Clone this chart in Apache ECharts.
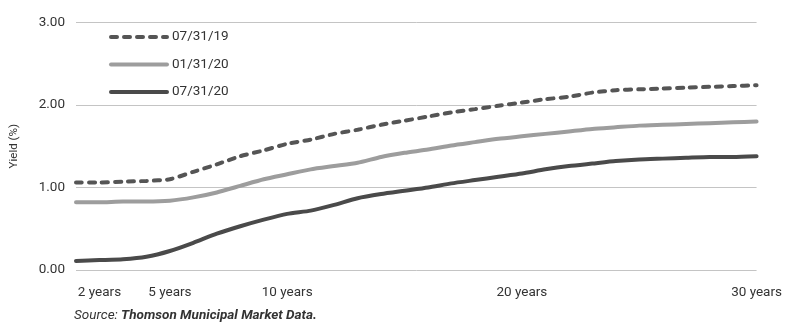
<!DOCTYPE html>
<html>
<head>
<meta charset="utf-8">
<script src="https://cdn.jsdelivr.net/npm/echarts@6/dist/echarts.min.js"></script>
<style>
html,body{margin:0;padding:0;background:#fff;}
#c{width:785px;height:323px;}
</style>
</head>
<body>
<div id="c"></div>
<script>
// Maturity in years (1..30)
const years = [1,2,3,4,5,6,7,8,9,10,11,12,13,14,15,16,17,18,19,20,21,22,23,24,25,26,27,28,29,30];
const labeledYears = [2,5,10,20,30];
const seriesNames = ['07/31/19','01/31/20','07/31/20'];
const yield_073119 = [1.06,1.06,1.07,1.08,1.10,1.19,1.28,1.38,1.45,1.53,1.58,1.65,1.70,1.76,1.81,1.86,1.91,1.95,1.99,2.03,2.07,2.10,2.15,2.18,2.19,2.20,2.21,2.22,2.23,2.24];
const yield_013120 = [0.82,0.82,0.83,0.83,0.84,0.88,0.94,1.02,1.10,1.16,1.22,1.26,1.30,1.37,1.42,1.46,1.51,1.55,1.59,1.62,1.65,1.68,1.71,1.73,1.75,1.76,1.77,1.78,1.79,1.80];
const yield_073120 = [0.11,0.12,0.13,0.16,0.23,0.33,0.44,0.53,0.61,0.68,0.72,0.79,0.87,0.92,0.96,1.00,1.05,1.09,1.13,1.17,1.22,1.26,1.29,1.32,1.34,1.35,1.36,1.37,1.37,1.38];
const yTicks = [0,1,2,3];

const FONT = 'Roboto,"Liberation Sans",sans-serif';
const chart = echarts.init(document.getElementById('c'), null, {renderer:'canvas'});
chart.setOption({
  animation:false,
  backgroundColor:'#fff',
  textStyle:{fontFamily:FONT},
  grid:{left:74,right:24,top:22.5,bottom:53,containLabel:false},
  legend:{
    orient:'vertical', left:104, top:25,
    itemWidth:56, itemHeight:12, itemGap:13.5,
    itemStyle:{opacity:0},
    lineStyle:{width:4, cap:'round'},
    textStyle:{fontFamily:FONT,fontSize:13.5,color:'#333'},
    data:seriesNames
  },
  xAxis:{
    type:'category', boundaryGap:false,
    data:years.map(y=>y+' years'),
    axisLine:{show:false}, axisTick:{show:false},
    axisLabel:{
      interval:(i)=>labeledYears.indexOf(years[i])>=0,
      margin:16, fontFamily:FONT, fontSize:13.5, color:'#333'
    },
    splitLine:{show:false}
  },
  yAxis:{
    type:'value', min:0, max:3, interval:1,
    name:'Yield (%)', nameLocation:'middle', nameGap:56, nameRotate:90,
    nameTextStyle:{fontFamily:FONT,fontSize:11.5,color:'#333'},
    axisLine:{show:false}, axisTick:{show:false},
    axisLabel:{formatter:(v)=>yTicks.indexOf(v)>=0?v.toFixed(2):'', margin:11, fontFamily:FONT, fontSize:13.5, color:'#333'},
    splitLine:{lineStyle:{color:'#c4c4c4',width:1}}
  },
  series:[
    {name:seriesNames[0], type:'line', data:yield_073119, symbol:'circle', showSymbol:false, smooth:0.2,
     lineStyle:{color:'#555555', width:4, type:[6,7], cap:'round'}, itemStyle:{color:'#555555'}},
    {name:seriesNames[1], type:'line', data:yield_013120, symbol:'circle', showSymbol:false, smooth:0.2,
     lineStyle:{color:'#9d9d9d', width:4, cap:'round'}, itemStyle:{color:'#9d9d9d'}},
    {name:seriesNames[2], type:'line', data:yield_073120, symbol:'circle', showSymbol:false, smooth:0.2,
     lineStyle:{color:'#4a4a4a', width:4, cap:'round'}, itemStyle:{color:'#4a4a4a'}}
  ],
  graphic:[{
    type:'text', left:74, top:309,
    style:{
      text:'{a|Source: }{b|Thomson Municipal Market Data.}',
      rich:{
        a:{fontFamily:FONT,fontSize:13.5,fontStyle:'italic',fill:'#333'},
        b:{fontFamily:FONT,fontSize:13.5,fontStyle:'italic',fontWeight:'bold',fill:'#333'}
      }
    }
  }]
});
</script>
</body>
</html>
